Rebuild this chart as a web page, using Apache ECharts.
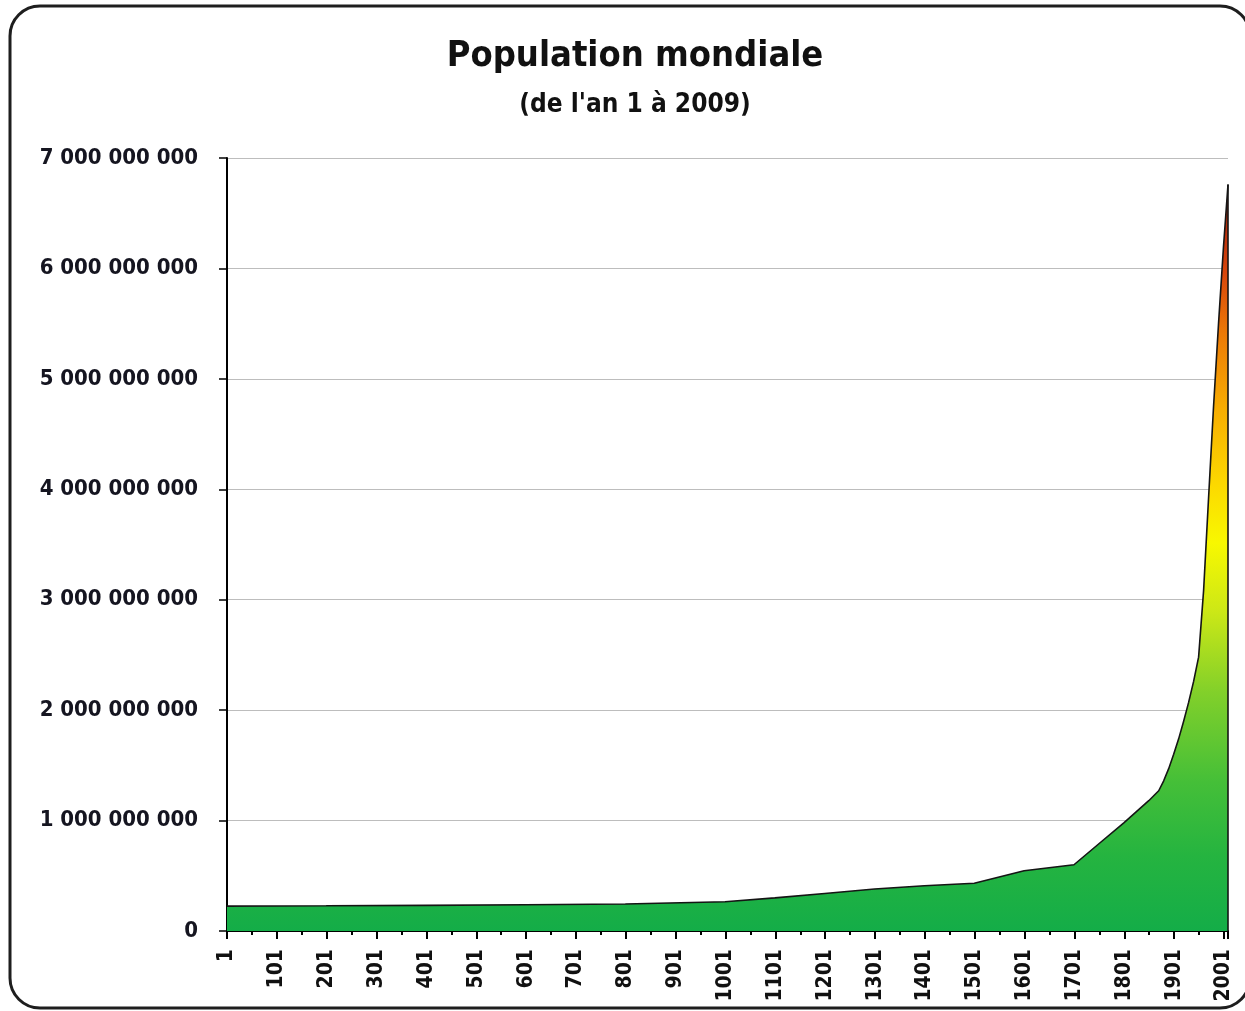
<!DOCTYPE html>
<html>
<head>
<meta charset="utf-8">
<script src="https://cdn.jsdelivr.net/npm/echarts@6/dist/echarts.min.js"></script>
<style>
html,body{margin:0;padding:0;background:#fff;}
#chart{width:1245px;height:1011px;}
</style>
</head>
<body>
<div id="chart"></div>
<script>
const titleText = 'Population mondiale';
const subtitleText = "(de l'an 1 à 2009)";
const years = [1, 200, 400, 600, 800, 1000, 1100, 1200, 1300, 1400, 1500, 1600, 1700, 1750, 1800, 1850, 1870, 1880, 1890, 1900, 1910, 1920, 1930, 1940, 1950, 1960, 1970, 1980, 1990, 2000, 2009];
const population = [225e6, 228e6, 232e6, 238e6, 245e6, 265e6, 300e6, 340e6, 380e6, 410e6, 432e6, 545e6, 600e6, 790e6, 980e6, 1180e6, 1270e6, 1360e6, 1470e6, 1600e6, 1740e6, 1900e6, 2070e6, 2260e6, 2480e6, 3080e6, 3920e6, 4750e6, 5500e6, 6200e6, 6760e6];
const yTicks = [0, 1e9, 2e9, 3e9, 4e9, 5e9, 6e9, 7e9];
const xStartYear = 1;
const xEndYear = 2009;
const xStep = 100;

const FONT = "'DejaVu Sans Condensed', 'DejaVu Sans', sans-serif";
function fmtSpace(v) {
  return String(Math.round(v)).replace(/\B(?=(\d{3})+(?!\d))/g, ' ');
}
const seriesData = years.map((y, i) => [y - xStartYear, population[i]]);
const lastX = years[years.length - 1] - xStartYear;
const lastV = population[population.length - 1];

const chart = echarts.init(document.getElementById('chart'), null, {renderer: 'canvas'});
chart.setOption({
  backgroundColor: '#ffffff',
  animation: false,
  graphic: [{
    type: 'rect',
    shape: {x: 10, y: 6, width: 1240, height: 1002, r: 30},
    style: {fill: 'none', stroke: '#1e1e1e', lineWidth: 3},
    z: 100
  }],
  title: [{
    text: titleText,
    left: 630, top: 34, textAlign: 'center',
    textStyle: {fontFamily: FONT, fontWeight: 'bold', fontSize: 36, color: '#111'}
  }, {
    text: subtitleText,
    left: 630, top: 87, textAlign: 'center',
    textStyle: {fontFamily: FONT, fontWeight: 'bold', fontSize: 26, color: '#111'}
  }],
  grid: {left: 227, right: 17, top: 158, bottom: 80, containLabel: false},
  xAxis: {
    type: 'value',
    min: 0,
    max: xEndYear - xStartYear,
    interval: xStep,
    axisLine: {show: true, lineStyle: {color: '#000', width: 2}},
    axisTick: {show: true, length: 8, lineStyle: {color: '#000', width: 2}},
    minorTick: {show: true, splitNumber: 2, length: 4, lineStyle: {color: '#000', width: 2}},
    splitLine: {show: false},
    axisLabel: {
      rotate: 90, margin: 18, showMaxLabel: false,
      fontFamily: FONT, fontWeight: 'bold', fontSize: 21, color: '#111',
      formatter: v => (v + xStartYear) % xStep === 1 || xStep === 1 ? String(v + xStartYear) : ''
    }
  },
  yAxis: {
    type: 'value',
    min: yTicks[0],
    max: yTicks[yTicks.length - 1],
    interval: yTicks[1] - yTicks[0],
    axisLine: {show: true, lineStyle: {color: '#000', width: 2}},
    axisTick: {show: true, length: 8, lineStyle: {color: '#000', width: 1.5}},
    splitLine: {show: true, lineStyle: {color: '#bdbdbd', width: 1.2}},
    axisLabel: {
      margin: 29,
      fontFamily: FONT, fontWeight: 'bold', fontSize: 22, color: '#151520',
      formatter: v => fmtSpace(v)
    }
  },
  series: [{
    type: 'line',
    data: seriesData,
    symbol: 'none',
    smooth: false,
    lineStyle: {color: '#151515', width: 1.6},
    areaStyle: {
      opacity: 1,
      color: {
        type: 'linear', x: 0, y: 0, x2: 0, y2: 1,
        colorStops: [
          {offset: 0.00, color: '#6e1c06'},
          {offset: 0.06, color: '#b8300c'},
          {offset: 0.12, color: '#d9470c'},
          {offset: 0.20, color: '#ec7a06'},
          {offset: 0.30, color: '#f7ad02'},
          {offset: 0.40, color: '#fcd800'},
          {offset: 0.48, color: '#f8f800'},
          {offset: 0.57, color: '#cde816'},
          {offset: 0.68, color: '#82d02a'},
          {offset: 0.80, color: '#45bf38'},
          {offset: 0.90, color: '#25b440'},
          {offset: 1.00, color: '#14ad48'}
        ]
      }
    },
    markLine: {
      silent: true,
      symbol: 'none',
      label: {show: false},
      lineStyle: {color: '#151515', width: 1.6, type: 'solid'},
      data: [[{coord: [lastX, 0]}, {coord: [lastX, lastV]}]]
    }
  }]
});
</script>
</body>
</html>
